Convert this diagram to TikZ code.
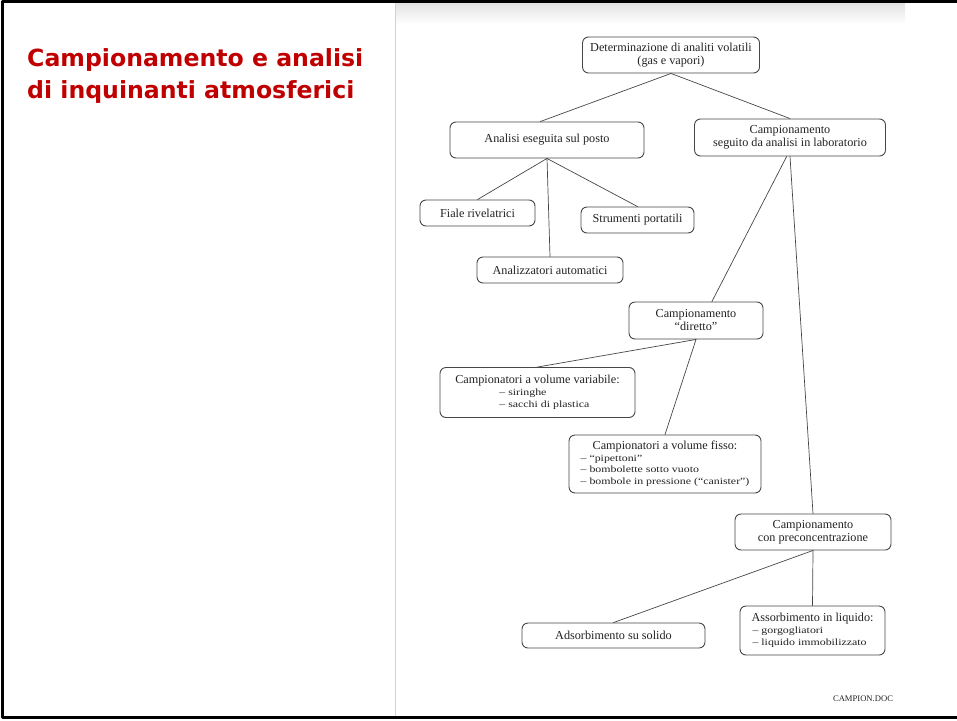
\documentclass[tikz,border=0pt]{standalone}
\usepackage{fontspec}
\setmainfont{Liberation Serif}
\newfontfamily\titlefont{DejaVu Sans}
\newfontfamily\voceface{Liberation Serif}[FakeStretch=1.25]
\definecolor{titlered}{RGB}{192,0,0}
\definecolor{scanline}{RGB}{70,70,70}
\definecolor{scantext}{RGB}{35,35,35}
\newcommand\voce{\voceface\fontsize{9.5}{11}\selectfont}

\begin{document}
\begin{tikzpicture}[x=1pt,y=-1pt,line join=round,line cap=round,
	box/.style={draw=scanline,line width=0.9pt,rounded corners=6pt,fill=white,text=scantext,
		font=\fontsize{12.2}{13}\selectfont,inner sep=2pt},
	link/.style={draw=scanline,line width=0.7pt}]
	\useasboundingbox (0,0) rectangle (957,720);
	% scanned page
	\shade[top color=gray!22,bottom color=white] (395,3) rectangle (905,24);
	\draw[gray!35,line width=0.6pt] (395,3) -- (395,716);
	% title
	\node[anchor=north west,align=left,inner sep=0pt,text=titlered,
		font=\titlefont\bfseries\fontsize{23.6}{32}\selectfont] (titolo) at (27,48)
		{Campionamento e analisi\\di inquinanti atmosferici};
	% tree
	\node[box,minimum width=177pt,minimum height=36pt,align=center] (det) at (671,55)
		{Determinazione di analiti volatili\\(gas e vapori)};
	\node[box,minimum width=194pt,minimum height=36pt] (posto) at (547,140) {Analisi eseguita sul posto};
	\node[box,minimum width=191pt,minimum height=37pt,align=center] (lab) at (790,137.5)
		{Campionamento\\seguito da analisi in laboratorio};
	\node[box,minimum width=115pt,minimum height=26pt] (fiale) at (477.5,213) {Fiale rivelatrici};
	\node[box,minimum width=113pt,minimum height=26pt] (strum) at (637.5,220) {Strumenti portatili};
	\node[box,minimum width=146pt,minimum height=26pt] (analizz) at (550,270) {Analizzatori automatici};
	\node[box,minimum width=134pt,minimum height=37pt,align=center] (diretto) at (696,320.5)
		{Campionamento\\“diretto”};
	\node[box,minimum width=195pt,minimum height=50pt,align=left] (variab) at (537.5,392.5)
		{Campionatori a volume variabile:\\[-0.5pt]\hspace*{44pt}{\voce – siringhe}\\[-1pt]\hspace*{44pt}{\voce – sacchi di plastica}};
	\node[box,minimum width=192pt,minimum height=58pt] (fisso) at (665,464)
		{\begin{tabular}{@{}l@{}}\multicolumn{1}{@{}c@{}}{Campionatori a volume fisso:}\\[-1pt]
		\voce – “pipettoni”\\[-1.5pt] \voce – bombolette sotto vuoto\\[-1.5pt] \voce – bombole in pressione (“canister”)\end{tabular}};
	\node[box,minimum width=156pt,minimum height=36pt,align=center] (precon) at (813,532)
		{Campionamento\\con preconcentrazione};
	\node[box,minimum width=183pt,minimum height=25pt] (adsorb) at (613.5,635.5) {Adsorbimento su solido};
	\node[box,minimum width=145pt,minimum height=49pt,align=left] (assorb) at (812.5,630.5)
		{Assorbimento in liquido:\\[-1pt]\hspace*{1pt}{\voce – gorgogliatori}\\[-1pt]\hspace*{1pt}{\voce – liquido immobilizzato}};
	\draw[link] (det.south) -- (posto.110);
	\draw[link] (det.south) -- (lab.north);
	\draw[link] (posto.south) -- (fiale.north);
	\draw[link] (posto.south) -- (analizz.north);
	\draw[link] (posto.south) -- (strum.north);
	\draw[link] (lab.260) -- (diretto.50);
	\draw[link] (lab.south) -- (precon.north);
	\draw[link] (diretto.south) -- (variab.north);
	\draw[link] (diretto.south) -- (fisso.north);
	\draw[link] (precon.south) -- (adsorb.north);
	\draw[link] (precon.south) -- (assorb.north);
	\node[text=scantext,font=\fontsize{8.6}{10}\selectfont] (fonte) at (863,699) {CAMPION.DOC};
	% slide frame
	\draw[line width=3pt] (957,1.5) -- (2.5,1.5) -- (2.5,717.5) -- (957,717.5);
\end{tikzpicture}
\end{document}
